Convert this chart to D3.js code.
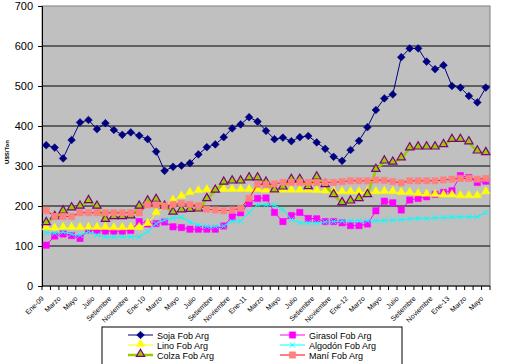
<!DOCTYPE html>
<html>
<head>
<meta charset="utf-8">
<script src="https://cdn.jsdelivr.net/npm/d3@7"></script>
<style>
  body { margin: 0; background: #fff; }
  svg { display: block; font-family: Arial, "Liberation Sans", sans-serif; }
</style>
</head>
<body>
<div id="chart"></div>
<script>
// meses Ene-09 .. May-13
var months = ["Ene-09","Febrero","Marzo","Abril","Mayo","Junio","Julio","Agosto","Setiembre","Octubre","Noviembre","Diciembre",
  "Ene-10","Febrero","Marzo","Abril","Mayo","Junio","Julio","Agosto","Setiembre","Octubre","Noviembre","Diciembre",
  "Ene-11","Febrero","Marzo","Abril","Mayo","Junio","Julio","Agosto","Setiembre","Octubre","Noviembre","Diciembre",
  "Ene-12","Febrero","Marzo","Abril","Mayo","Junio","Julio","Agosto","Setiembre","Octubre","Noviembre","Diciembre",
  "Ene-13","Febrero","Marzo","Abril","Mayo"];

var soja = [352,346,319,365,409,415,392,407,390,378,384,376,367,336,288,298,301,307,329,347,354,372,394,404,422,411,388,
  367,371,362,372,375,359,343,323,313,340,363,397,440,469,479,572,594,594,561,542,552,500,496,475,459,496];
var girasol = [102,125,130,126,119,140,139,137,137,137,139,161,155,156,160,148,146,142,142,142,142,150,173,183,207,219,220,
  184,161,176,184,169,168,161,161,158,151,151,155,188,212,208,190,215,219,223,229,234,238,276,271,259,262];
var lino = [144,143,145,145,145,145,145,145,144,144,145,145,155,182,198,213,223,232,237,239,240,240,240,240,240,240,238,
  238,238,238,238,238,237,236,235,234,234,234,234,234,235,235,232,232,229,228,227,226,226,224,224,224,234];
var algodon = [133,132,135,130,127,136,127,123,123,123,123,123,136,156,165,170,172,160,152,149,149,150,162,162,183,203,203,
  202,191,166,158,158,158,160,161,162,163,163,163,163,164,165,166,168,169,169,170,171,172,173,173,173,184];
var colza = [157,172,186,194,198,212,198,165,172,172,174,198,211,215,198,183,189,190,191,217,238,258,261,261,269,269,258,
  239,246,265,265,247,271,252,227,207,211,217,227,290,311,308,319,344,346,346,346,352,365,365,359,336,332];
var mani = [189,174,174,174,183,183,183,183,183,183,183,183,203,203,200,204,206,204,201,192,190,188,190,194,219,254,253,
  255,259,259,259,259,259,259,259,261,263,263,263,265,264,261,258,263,263,263,263,265,267,269,269,267,269];
var yTicks = [0,100,200,300,400,500,600,700];

var series = [
  { name: "Soja Fob Arg", values: soja, line: "#000080", width: 1, symbol: "diamond", fill: "#000080", stroke: "#000080" },
  { name: "Girasol Fob Arg", values: girasol, line: "#FF00FF", width: 1, symbol: "square", fill: "#FF00FF", stroke: "#FF00FF" },
  { name: "Lino Fob Arg", values: lino, line: "#FFFF00", width: 1, symbol: "triangle", fill: "#FFFF00", stroke: "#FFFF00" },
  { name: "Algodón Fob Arg", values: algodon, line: "#00FFFF", width: 1, symbol: "x", fill: "none", stroke: "#00FFFF" },
  { name: "Colza Fob Arg", values: colza, line: "#99CC00", width: 2.5, symbol: "triangle", fill: "#99CC00", stroke: "#800080" },
  { name: "Maní Fob Arg", values: mani, line: "#FF0000", width: 1, symbol: "square", fill: "#FF8080", stroke: "#FF8080" }
];

var width = 509, height = 364;
var plotLeft = 42, plotRight = 490, plotTop = 6, plotBottom = 286;

var svg = d3.select("#chart").append("svg")
  .attr("width", width)
  .attr("height", height);

var x = d3.scaleBand()
  .domain(d3.range(months.length))
  .range([plotLeft, plotRight])
  .padding(0);

var y = d3.scaleLinear()
  .domain([0, 700])
  .range([plotBottom, plotTop]);

function cx(i) { return x(i) + x.bandwidth() / 2; }

// plot area
svg.append("rect")
  .attr("x", plotLeft).attr("y", plotTop)
  .attr("width", plotRight - plotLeft).attr("height", plotBottom - plotTop)
  .attr("fill", "#C0C0C0")
  .attr("stroke", "#808080");

// gridlines
svg.append("g").selectAll("line")
  .data(yTicks.filter(function (d) { return d > 0 && d < 700; }))
  .enter().append("line")
  .attr("x1", plotLeft).attr("x2", plotRight)
  .attr("y1", function (d) { return y(d); })
  .attr("y2", function (d) { return y(d); })
  .attr("stroke", "#000");

// y axis
var yAxis = svg.append("g")
  .attr("transform", "translate(" + plotLeft + ",0)")
  .call(d3.axisLeft(y).tickValues(yTicks).tickSize(4).tickPadding(5));
yAxis.select(".domain").attr("stroke", "#000");
yAxis.selectAll("text").attr("font-size", 11).attr("fill", "#000")
  .attr("font-family", "Arial, 'Liberation Sans', sans-serif");

svg.append("text")
  .attr("transform", "translate(9,152) rotate(-90)")
  .attr("text-anchor", "middle")
  .attr("font-size", 6)
  .attr("font-weight", "bold")
  .text("U$S/Ton");

// x axis
svg.append("line")
  .attr("x1", plotLeft).attr("x2", plotRight)
  .attr("y1", plotBottom).attr("y2", plotBottom)
  .attr("stroke", "#000");

svg.append("g").selectAll("line")
  .data(d3.range(months.length + 1))
  .enter().append("line")
  .attr("x1", function (d) { return plotLeft + d * x.step(); })
  .attr("x2", function (d) { return plotLeft + d * x.step(); })
  .attr("y1", plotBottom).attr("y2", plotBottom + 4)
  .attr("stroke", "#000");

svg.append("g").selectAll("text")
  .data(months.map(function (m, i) { return { label: m, i: i }; })
    .filter(function (d) { return d.i % 2 === 0; }))
  .enter().append("text")
  .attr("transform", function (d) { return "translate(" + (cx(d.i) - 2) + "," + (plotBottom + 13) + ") rotate(-45)"; })
  .attr("text-anchor", "end")
  .attr("font-size", 7)
  .text(function (d) { return d.label; });

// markers
function drawMarker(g, s, px, py) {
  if (s.symbol === "diamond") {
    g.append("path")
      .attr("d", d3.symbol().type(d3.symbolSquare).size(30)())
      .attr("transform", "translate(" + px + "," + py + ") rotate(45)")
      .attr("fill", s.fill).attr("stroke", s.stroke).attr("stroke-width", 0.5);
  } else if (s.symbol === "square") {
    g.append("path")
      .attr("d", d3.symbol().type(d3.symbolSquare).size(40)())
      .attr("transform", "translate(" + px + "," + py + ")")
      .attr("fill", s.fill).attr("stroke", s.stroke).attr("stroke-width", 0.5);
  } else if (s.symbol === "triangle") {
    g.append("path")
      .attr("d", d3.symbol().type(d3.symbolTriangle).size(30)())
      .attr("transform", "translate(" + px + "," + (py - 1) + ")")
      .attr("fill", s.fill).attr("stroke", s.stroke).attr("stroke-width", s.stroke === s.fill ? 0.5 : 1.2);
  } else {
    g.append("path")
      .attr("d", d3.symbol().type(d3.symbolX).size(20)())
      .attr("transform", "translate(" + px + "," + py + ")")
      .attr("fill", "none").attr("stroke", s.stroke).attr("stroke-width", 1);
  }
}

var line = d3.line()
  .x(function (d, i) { return cx(i); })
  .y(function (d) { return y(d); });

series.forEach(function (s) {
  var g = svg.append("g");
  g.append("path")
    .attr("d", line(s.values))
    .attr("fill", "none")
    .attr("stroke", s.line)
    .attr("stroke-width", s.width);
  s.values.forEach(function (v, i) {
    drawMarker(g, s, cx(i), y(v));
  });
});

// legend
var legend = svg.append("g");
legend.append("rect")
  .attr("x", 102).attr("y", 327)
  .attr("width", 300).attr("height", 42)
  .attr("fill", "#fff").attr("stroke", "#000");

series.forEach(function (s, i) {
  var col = i % 2, row = Math.floor(i / 2);
  var lx = col === 0 ? 128 : 280;
  var ly = 335 + row * 10;
  legend.append("line")
    .attr("x1", lx).attr("x2", lx + 25)
    .attr("y1", ly).attr("y2", ly)
    .attr("stroke", s.line).attr("stroke-width", s.width);
  drawMarker(legend, s, lx + 12.5, ly);
  legend.append("text")
    .attr("x", lx + 29).attr("y", ly + 3.5)
    .attr("font-size", 9)
    .text(s.name);
});
</script>
</body>
</html>
